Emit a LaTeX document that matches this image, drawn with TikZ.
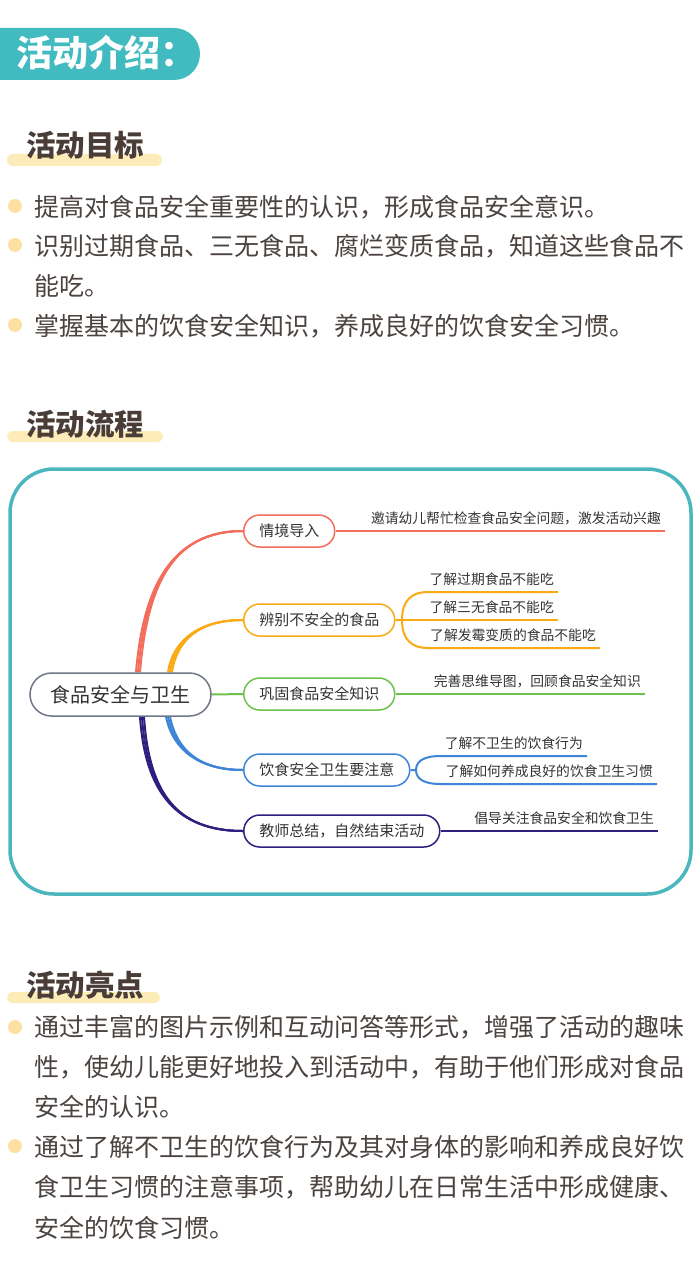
\documentclass[tikz,border=0pt]{standalone}
\usepackage{fontspec}
\setmainfont{Noto Sans CJK SC}
\usetikzlibrary{backgrounds}
\definecolor{cred}{HTML}{F26D5B}
\definecolor{corange}{HTML}{FAAA14}
\definecolor{cgreen}{HTML}{6CC24A}
\definecolor{cblue}{HTML}{3D85D6}
\definecolor{cnavy}{HTML}{2B2080}
\definecolor{rootc}{HTML}{6E7787}
\definecolor{mmtext}{HTML}{333333}
\definecolor{frameteal}{HTML}{4AB7BF}
\definecolor{hdrteal}{HTML}{42BBC0}
\definecolor{bodytext}{HTML}{4A4340}
\definecolor{titletext}{HTML}{4A3D37}
\definecolor{dotc}{HTML}{FDE0A2}
\definecolor{barc}{HTML}{FDECB8}
\begin{document}
\begin{tikzpicture}[x=1pt,y=-1pt,
  body/.style={anchor=base west, inner sep=0pt, font=\fontsize{25}{30}\selectfont, text=bodytext},
  dotb/.style={fill=dotc, draw=none},
  sectitle/.style={anchor=base west, inner sep=0pt, font=\fontsize{29.5}{32}\selectfont\bfseries, text=titletext},
  bar/.style={fill=barc, rounded corners=6pt},
  rootn/.style={draw=rootc, fill=white, line width=1.5pt, rounded corners=21.5pt, minimum width=181pt, minimum height=43pt, font=\fontsize{20}{24}\selectfont, text=mmtext},
  branch/.style={fill=white, line width=1.5pt, rounded corners=16pt, minimum height=32pt, inner xsep=15.5pt, anchor=west, font=\fontsize{15}{18}\selectfont, text=mmtext},
  leaf/.style={anchor=south east, inner xsep=4pt, inner ysep=7.5pt, text height=10pt, text depth=0pt, font=\fontsize{13.8}{16}\selectfont, text=mmtext},
  conn/.style={line width=2pt},
  brl/.style={line width=2pt}
]
\useasboundingbox (0,0) rectangle (700,1276);

% header
\fill[hdrteal, rounded corners=26pt] (-40,28) rectangle (200,80);
\node[anchor=base west, inner sep=0pt, font=\fontsize{36}{40}\selectfont\bfseries, text=white] (hdr) at (16,67) {活动介绍：};

% section 1
\fill[bar] (7,154) rectangle (162,166);
\node[sectitle] (t1) at (26,157) {活动目标};
\fill[dotb] (15,206) circle (7);
\node[body] (g1) at (34,216.5) {提高对食品安全重要性的认识，形成食品安全意识。};
\fill[dotb] (15,245) circle (7);
\node[body] (g2a) at (34,255.5) {识别过期食品、三无食品、腐烂变质食品，知道这些食品不};
\node[body] (g2b) at (34,295.5) {能吃。};
\fill[dotb] (15,325) circle (7);
\node[body] (g3) at (34,335.5) {掌握基本的饮食安全知识，养成良好的饮食安全习惯。};

% section 2
\fill[bar] (7,431) rectangle (163,442);
\node[sectitle] (t2) at (26,435) {活动流程};
\draw[frameteal, line width=3.5pt, rounded corners=44pt] (10,469) rectangle (691,894);

\node[rootn] (root) at (120.5,694.5) {食品安全与卫生};
\node[branch, draw=cred] (n1) at (243,531) {情境导入};
\node[branch, draw=corange] (n2) at (243,620) {辨别不安全的食品};
\node[branch, draw=cgreen] (n3) at (243,694) {巩固食品安全知识};
\node[branch, draw=cblue] (n4) at (243,770) {饮食安全卫生要注意};
\node[branch, draw=cnavy] (n5) at (243,831) {教师总结，自然结束活动};

\node[leaf] (l1) at (665,531) {邀请幼儿帮忙检查食品安全问题，激发活动兴趣};
\node[leaf] (l2a) at (558,592) {了解过期食品不能吃};
\node[leaf] (l2b) at (558,620) {了解三无食品不能吃};
\node[leaf] (l2c) at (600,648) {了解发霉变质的食品不能吃};
\node[leaf] (l3) at (645,694) {完善思维导图，回顾食品安全知识};
\node[leaf] (l4a) at (587,756) {了解不卫生的饮食行为};
\node[leaf] (l4b) at (657,784) {了解如何养成良好的饮食卫生习惯};
\node[leaf] (l5) at (658,831) {倡导关注食品安全和饮食卫生};

\coordinate (j2) at (402,620);
\coordinate (o2a) at (428,592);
\coordinate (o2c) at (428,648);
\coordinate (j4) at (416,770);
\coordinate (o4a) at (440,756);
\coordinate (o4b) at (440,784);

\begin{scope}[on background layer]
  \fill[white] (0,0) rectangle (700,1276);
  \foreach \s in {15.5,17.5,19.5}
    \draw[brl, cred] ([xshift=\s pt]root.north) .. controls +(7,-83) and +(-73,0) .. (n1.west);
  \foreach \s in {47.5,49.5,51.5}
    \draw[brl, corange] ([xshift=\s pt]root.north) .. controls +(5,-33) and +(-43,0) .. (n2.west);
  \draw[brl, cgreen] (root.east) -- (n3.west);
  \foreach \s in {45.5,47.5,49.5}
    \draw[brl, cblue] ([xshift=\s pt]root.south) .. controls +(7,34) and +(-43,0) .. (n4.west);
  \foreach \s in {19.5,21.5,23.5}
    \draw[brl, cnavy] ([xshift=\s pt]root.south) .. controls +(5,74) and +(-68,0) .. (n5.west);

  \draw[conn, cred] (n1.east) -- (l1.south east);
  \draw[conn, corange] (n2.east) -- (j2) .. controls +(0,-20) and +(-16,0) .. (o2a) -- (l2a.south east);
  \draw[conn, corange] (n2.east) -- (l2b.south east);
  \draw[conn, corange] (j2) .. controls +(0,20) and +(-16,0) .. (o2c) -- (l2c.south east);
  \draw[conn, cgreen] (n3.east) -- (l3.south east);
  \draw[conn, cblue] (n4.east) -- (j4) .. controls +(0,-10) and +(-14,0) .. (o4a) -- (l4a.south east);
  \draw[conn, cblue] (j4) .. controls +(0,10) and +(-14,0) .. (o4b) -- (l4b.south east);
  \draw[conn, cnavy] (n5.east) -- (l5.south east);
\end{scope}

% section 3
\fill[bar] (7,992) rectangle (160,1003);
\node[sectitle] (t3) at (26,996) {活动亮点};
\fill[dotb] (15,1027) circle (7);
\node[body] (h1a) at (34,1036.5) {通过丰富的图片示例和互动问答等形式，增强了活动的趣味};
\node[body] (h1b) at (34,1076.5) {性，使幼儿能更好地投入到活动中，有助于他们形成对食品};
\node[body] (h1c) at (34,1116.5) {安全的认识。};
\fill[dotb] (15,1146) circle (7);
\node[body] (h2a) at (34,1156.5) {通过了解不卫生的饮食行为及其对身体的影响和养成良好饮};
\node[body] (h2b) at (34,1196.5) {食卫生习惯的注意事项，帮助幼儿在日常生活中形成健康、};
\node[body] (h2c) at (34,1237) {安全的饮食习惯。};
\end{tikzpicture}
\end{document}
